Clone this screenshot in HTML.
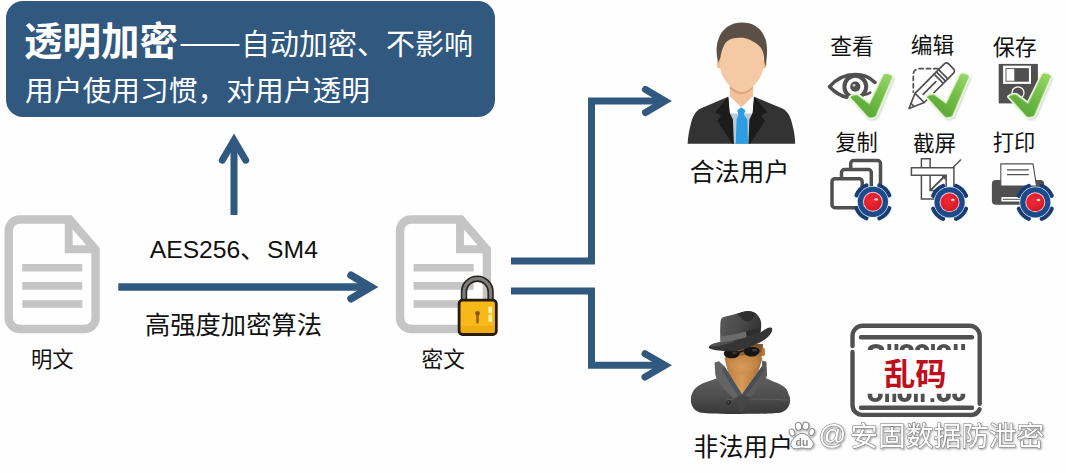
<!DOCTYPE html>
<html lang="zh-CN">
<head>
<meta charset="utf-8">
<title>透明加密——自动加密、不影响用户使用习惯，对用户透明</title>
<style>
html,body{margin:0;padding:0;background:#fefefe;}
body{width:1066px;height:473px;overflow:hidden;font-family:"Liberation Sans",sans-serif;}
svg{display:block;}
</style>
</head>
<body>
<svg width="1066" height="473" viewBox="0 0 1066 473" font-family="Liberation Sans, sans-serif">
<defs>
<linearGradient id="ck" x1="0.9" y1="0" x2="0.25" y2="1">
<stop offset="0" stop-color="#97d466"/><stop offset="0.45" stop-color="#74be49"/><stop offset="1" stop-color="#56a436"/>
</linearGradient>
<filter id="sh" x="-30%" y="-30%" width="170%" height="170%">
<feGaussianBlur in="SourceAlpha" stdDeviation="1.1"/><feOffset dx="1.6" dy="1.4"/>
<feComponentTransfer><feFuncA type="linear" slope="0.42"/></feComponentTransfer>
<feMerge><feMergeNode/><feMergeNode in="SourceGraphic"/></feMerge>
</filter>
<filter id="bl" x="-30%" y="-30%" width="160%" height="160%"><feGaussianBlur stdDeviation="1"/></filter>
<radialGradient id="red" cx="0.42" cy="0.4" r="0.65">
<stop offset="0" stop-color="#f02a36"/><stop offset="0.7" stop-color="#de1f2b"/><stop offset="1" stop-color="#c21825"/>
</radialGradient>
<linearGradient id="hat" x1="0" y1="0.3" x2="1" y2="0.6"><stop offset="0" stop-color="#585858"/><stop offset="0.55" stop-color="#484848"/><stop offset="1" stop-color="#2f2f2f"/></linearGradient>
<linearGradient id="coat" x1="0" y1="0" x2="0" y2="1"><stop offset="0" stop-color="#5e5e5e"/><stop offset="0.5" stop-color="#4e4e4e"/><stop offset="1" stop-color="#383838"/></linearGradient>
<linearGradient id="skin2" x1="0" y1="0" x2="1" y2="0"><stop offset="0" stop-color="#b87a3c"/><stop offset="0.45" stop-color="#d79a58"/><stop offset="1" stop-color="#a96c33"/></linearGradient>
<radialGradient id="face2" cx="0.45" cy="0.75" r="0.7"><stop offset="0" stop-color="#d59c5c"/><stop offset="0.6" stop-color="#c28345"/><stop offset="1" stop-color="#9c6430"/></radialGradient>
<filter id="wm" x="-5%" y="-20%" width="110%" height="150%">
<feGaussianBlur in="SourceAlpha" stdDeviation="0.9"/><feOffset dx="0.6" dy="0.8"/>
<feComponentTransfer><feFuncA type="linear" slope="0.38"/></feComponentTransfer>
<feMerge><feMergeNode/><feMergeNode in="SourceGraphic"/></feMerge>
</filter>
</defs>
<rect x="6" y="1" width="489" height="116" rx="17" ry="17" fill="#31587f"/>
<text x="24" y="55" font-family="'Liberation Sans','Noto Sans CJK SC',sans-serif" font-size="38.5" font-weight="bold" fill="#fff" textLength="154" lengthAdjust="spacingAndGlyphs">透明加密</text>
<rect x="180.5" y="44" width="59" height="2" fill="#fff"/>
<text x="241" y="55" font-family="'Liberation Sans','Noto Sans CJK SC',sans-serif" font-size="29" fill="#fff" textLength="232" lengthAdjust="spacingAndGlyphs">自动加密、不影响</text>
<text x="25" y="100.5" font-family="'Liberation Sans','Noto Sans CJK SC',sans-serif" font-size="28.7" fill="#fff" textLength="345" lengthAdjust="spacingAndGlyphs">用户使用习惯，对用户透明</text>
<path d="M234 215V140" fill="none" stroke="#31587f" stroke-width="7" />
<path d="M222.3 160.2L234 140.3L245.7 160.2" fill="none" stroke="#31587f" stroke-width="7" stroke-linecap="round" stroke-linejoin="miter" stroke-miterlimit="10"/>
<path d="M118.3 287H371" fill="none" stroke="#31587f" stroke-width="7.5" />
<path d="M351 275.3L371 287L351 298.7" fill="none" stroke="#31587f" stroke-width="7.5" stroke-linecap="round" stroke-linejoin="miter" stroke-miterlimit="10"/>
<path d="M511 261H591.5V101H665" fill="none" stroke="#31587f" stroke-width="7" stroke-linejoin="miter"/>
<path d="M645.5 89.5L665 101L645.5 112.5" fill="none" stroke="#31587f" stroke-width="7" stroke-linecap="round" stroke-linejoin="miter" stroke-miterlimit="10"/>
<path d="M511 291H591.5V365.3H665" fill="none" stroke="#31587f" stroke-width="7" stroke-linejoin="miter"/>
<path d="M645 353.7L665 365.3L645 377" fill="none" stroke="#31587f" stroke-width="7" stroke-linecap="round" stroke-linejoin="miter" stroke-miterlimit="10"/>
<g transform="translate(0 0)" fill="none" stroke="#c5c5c5"><path d="M69.6 219.5H19.75A11 11 0 0 0 8.75 230.5V318.0A11 11 0 0 0 19.75 329.0H84.6A11 11 0 0 0 95.6 318.0V249.6Z" stroke-width="8.4" stroke-linejoin="miter"/><path d="M68.7 219.5V249.3H95.6" stroke-width="7.9" stroke-linejoin="miter"/><path d="M22.3 267.7H82.3" stroke-width="7.6"/><path d="M22.3 285.9H82.3" stroke-width="7.6"/><path d="M22.3 304.0H82.3" stroke-width="7.6"/></g>
<g transform="translate(391.3 0)" fill="none" stroke="#c5c5c5"><path d="M69.6 219.5H19.75A11 11 0 0 0 8.75 230.5V318.0A11 11 0 0 0 19.75 329.0H84.6A11 11 0 0 0 95.6 318.0V249.6Z" stroke-width="8.4" stroke-linejoin="miter"/><path d="M68.7 219.5V249.3H95.6" stroke-width="7.9" stroke-linejoin="miter"/><path d="M22.3 267.7H82.3" stroke-width="7.6"/><path d="M22.3 285.9H82.3" stroke-width="7.6"/><path d="M22.3 304.0H82.3" stroke-width="7.6"/></g>
<g>
<path d="M464 301V292A13.3 13.3 0 0 1 490.6 292V301" fill="none" stroke="#2a2420" stroke-width="6.4"/>
<path d="M464 301V292A13.3 13.3 0 0 1 490.6 292V301" fill="none" stroke="#7d7d7d" stroke-width="3.2"/>
<rect x="459.1" y="300.2" width="37.2" height="34.3" rx="3.5" fill="#f6b919" stroke="#2a1b10" stroke-width="2.8"/>
<rect x="461" y="326" width="33.6" height="7" rx="2" fill="#eaa70f" opacity="0.6"/>
<circle cx="477.5" cy="313.3" r="2.4" fill="#8a5a12"/>
<rect x="476.3" y="313" width="2.4" height="10.6" rx="1" fill="#8a5a12"/>
<rect x="488.4" y="306.5" width="3.6" height="7" rx="0.8" fill="#fff2a3"/>
<rect x="488.4" y="314.8" width="3.6" height="7" rx="0.8" fill="#fff2a3"/>
</g>
<text x="31" y="367" font-family="'Liberation Sans','Noto Sans CJK SC',sans-serif" font-size="21.3" fill="#111">明文</text>
<text x="421.5" y="367" font-family="'Liberation Sans','Noto Sans CJK SC',sans-serif" font-size="21.7" fill="#111">密文</text>
<text x="149.7" y="257.8" font-family="Liberation Sans, sans-serif" font-size="24.7" fill="#111" textLength="90.64" lengthAdjust="spacingAndGlyphs">AES256</text>
<text x="240.3" y="258.3" font-family="'Liberation Sans','Noto Sans CJK SC',sans-serif" font-size="24.7" fill="#111">、</text>
<text x="267.1" y="257.8" font-family="Liberation Sans, sans-serif" font-size="24.7" fill="#111" textLength="50.79" lengthAdjust="spacingAndGlyphs">SM4</text>
<text x="145" y="334" font-family="'Liberation Sans','Noto Sans CJK SC',sans-serif" font-size="25.2" fill="#111" textLength="177" lengthAdjust="spacingAndGlyphs">高强度加密算法</text>
<text x="689.8" y="180.5" font-family="'Liberation Sans','Noto Sans CJK SC',sans-serif" font-size="24.8" fill="#111" textLength="99.5" lengthAdjust="spacingAndGlyphs">合法用户</text>
<text x="693.6" y="456" font-family="'Liberation Sans','Noto Sans CJK SC',sans-serif" font-size="24.8" fill="#111" textLength="99.5" lengthAdjust="spacingAndGlyphs">非法用户</text>
<text x="830.3" y="53.8" font-family="'Liberation Sans','Noto Sans CJK SC',sans-serif" font-size="21.7" fill="#111">查看</text>
<text x="910.8" y="52.6" font-family="'Liberation Sans','Noto Sans CJK SC',sans-serif" font-size="21.7" fill="#111">编辑</text>
<text x="992.8" y="54.7" font-family="'Liberation Sans','Noto Sans CJK SC',sans-serif" font-size="22" fill="#111">保存</text>
<text x="835.4" y="150.2" font-family="'Liberation Sans','Noto Sans CJK SC',sans-serif" font-size="21.2" fill="#111">复制</text>
<text x="913" y="151" font-family="'Liberation Sans','Noto Sans CJK SC',sans-serif" font-size="21.6" fill="#111">截屏</text>
<text x="992.8" y="149.8" font-family="'Liberation Sans','Noto Sans CJK SC',sans-serif" font-size="21.3" fill="#111">打印</text>
<g>
<!-- suit -->
<path d="M687.6 143.8C688 137 689 131 690.3 126.2C691.5 121 692.5 117.5 694.4 114.6C696 111.5 698 109.8 700.6 108.4L728.1 96.7L741.2 108L754.2 96.7L782.4 108.4C785 109.8 787 111.5 788.6 114.6C790.5 117.5 791.5 121 792.7 126.2C794 131 795 137 795.2 143.8Z" fill="#333"/>
<!-- shirt -->
<path d="M728.3 96.8H754.1L749.6 143.8H732.7Z" fill="#b9cbd8"/>
<path d="M728.3 96.8H754.1L752.5 113.5H730Z" fill="#fff"/>
<!-- neck -->
<path d="M729.8 84H753V96L741.3 107.6L729.8 96Z" fill="#f1c29c"/>
<path d="M729.8 84H753V88.5C749 92.5 745 94 741.4 94C737.8 94 733.8 92.5 729.8 88.5Z" fill="#dca67d"/>
<!-- tie -->
<path d="M741.3 107.3L745.4 110.4L743.9 114.5L747.4 119.4L748 143.8H735.7L736.6 119.4L738.5 114.5L737.1 110.4Z" fill="#2b9de0"/>
<!-- lapels -->
<path d="M728.1 96.7L715.1 112.2L721 115.5L717.4 121L732.3 143.8H733.9L732.9 119.4L729.5 112.5L728.4 97.4Z" fill="#1c1c1c"/>
<path d="M754.2 96.7L767.2 112.2L761.3 115.5L764.9 121L750 143.8H748.4L749.4 119.4L752.8 112.5L753.9 97.4Z" fill="#1c1c1c"/>
<!-- ears -->
<ellipse cx="719.4" cy="63.8" rx="2.6" ry="4.6" fill="#eebd95"/>
<ellipse cx="764.2" cy="63.8" rx="2.6" ry="4.6" fill="#eebd95"/>
<!-- face -->
<path d="M720.2 50C720.2 40 728 34 742 34C756 34 763.3 40 763.3 50V64C763.3 68 763 69.5 762.5 71.5C760.5 80 750 92.1 741.8 92.1C733.5 92.1 723 80 721 71.5C720.5 69.5 720.2 68 720.2 64Z" fill="#f5c9a4"/>
<!-- hair -->
<path d="M718.2 62.5C715.8 53 716.3 45 718.3 39.5C722 28.5 731 22.6 742 22.6C753.5 22.6 762 28.5 765.6 39.5C767.6 46 767.6 56 765.3 66.4C764.6 63 764.2 61 764 58.5C763.5 52 762.5 48 756.4 43.6C751 40 747 38.6 743.1 37.8C738.5 37.6 735 38 731.7 38.8C727.5 40 725.5 42.5 724 45.5C722 49.5 721 53.5 720.2 58.8C719.4 60 718.8 61.2 718.2 62.5Z" fill="#5c5046"/>
</g>
<g fill="none" stroke="#505050" stroke-linecap="round">
<path d="M829.6 86.7C838 77 847.5 74.6 855.3 74.6C863 74.6 870 77.6 875 82.4" stroke-width="3.5"/>
<path d="M829.6 86.7C835 92.5 840.5 95.8 846.8 97.3" stroke-width="3.5"/>
<circle cx="855.3" cy="86.7" r="10.9" stroke-width="4"/>
<path d="M864.5 94.6C866.8 94.6 868.8 93.8 870.3 92.6" stroke-width="2.6"/>
<circle cx="855.3" cy="86.7" r="5.1" fill="#505050" stroke="none"/>
<circle cx="854" cy="85.3" r="1.4" fill="#cfcfcf" stroke="none"/>
</g>
<g transform="translate(0 0)"><path d="M850.6 97.2C852.5 95.6 855.5 94.9 857.6 95.4L869.6 104.4L884.2 74.8C886.5 73.9 890 74.8 892 76.8L875.6 116C873.5 117.6 870.3 117.8 868.4 117Z" fill="#9a9a9a" stroke="#9a9a9a" stroke-width="2.6" stroke-linejoin="round" opacity="0.45" transform="translate(1.3 1.5)" filter="url(#bl)"/><path d="M850.6 97.2C852.5 95.6 855.5 94.9 857.6 95.4L869.6 104.4L884.2 74.8C886.5 73.9 890 74.8 892 76.8L875.6 116C873.5 117.6 870.3 117.8 868.4 117Z" fill="#eaf6de" stroke="#eaf6de" stroke-width="4" stroke-linejoin="round"/><path d="M850.6 97.2C852.5 95.6 855.5 94.9 857.6 95.4L869.6 104.4L884.2 74.8C886.5 73.9 890 74.8 892 76.8L875.6 116C873.5 117.6 870.3 117.8 868.4 117Z" fill="url(#ck)" stroke="#8fcf5e" stroke-width="0.8" stroke-linejoin="round"/></g>
<g fill="none" stroke="#505050" stroke-width="1.7" stroke-linejoin="round" stroke-linecap="round">
<path d="M938 68.7H919A5.7 5.7 0 0 0 913.3 74.4V92" stroke-dasharray="4.2 3.2"/>
<g transform="translate(909 108.5) rotate(-45)">
<path d="M0 0L15 -6.5H56.5A3 3 0 0 1 59.5 -3.5V3.5A3 3 0 0 1 56.5 6.5H15Z" fill="#fff"/>
<path d="M15 -6.5V6.5M42 -6.5V6.5M45.2 -6.5V6.5M48.4 -6.5V6.5M5 -2.2V2.2M20 0H38"/>
</g>
</g>
<g transform="translate(76.6 -0.3)"><path d="M850.6 97.2C852.5 95.6 855.5 94.9 857.6 95.4L869.6 104.4L884.2 74.8C886.5 73.9 890 74.8 892 76.8L875.6 116C873.5 117.6 870.3 117.8 868.4 117Z" fill="#9a9a9a" stroke="#9a9a9a" stroke-width="2.6" stroke-linejoin="round" opacity="0.45" transform="translate(1.3 1.5)" filter="url(#bl)"/><path d="M850.6 97.2C852.5 95.6 855.5 94.9 857.6 95.4L869.6 104.4L884.2 74.8C886.5 73.9 890 74.8 892 76.8L875.6 116C873.5 117.6 870.3 117.8 868.4 117Z" fill="#eaf6de" stroke="#eaf6de" stroke-width="4" stroke-linejoin="round"/><path d="M850.6 97.2C852.5 95.6 855.5 94.9 857.6 95.4L869.6 104.4L884.2 74.8C886.5 73.9 890 74.8 892 76.8L875.6 116C873.5 117.6 870.3 117.8 868.4 117Z" fill="url(#ck)" stroke="#8fcf5e" stroke-width="0.8" stroke-linejoin="round"/></g>
<g>
<rect x="998.7" y="63.9" width="39.2" height="39.5" fill="#505050"/>
<rect x="1003.1" y="65.7" width="27.9" height="18.2" fill="#fff"/>
<rect x="1006" y="68.6" width="22.4" height="12.6" fill="#fff" stroke="#505050" stroke-width="0.9"/>
<rect x="1014.3" y="68.6" width="14.1" height="12.6" fill="#505050"/>
<circle cx="1018" cy="92.8" r="6" fill="#505050" stroke="#fff" stroke-width="1.3"/>
</g>
<g transform="translate(158.5 -0.5)"><path d="M850.6 97.2C852.5 95.6 855.5 94.9 857.6 95.4L869.6 104.4L884.2 74.8C886.5 73.9 890 74.8 892 76.8L875.6 116C873.5 117.6 870.3 117.8 868.4 117Z" fill="#9a9a9a" stroke="#9a9a9a" stroke-width="2.6" stroke-linejoin="round" opacity="0.45" transform="translate(1.3 1.5)" filter="url(#bl)"/><path d="M850.6 97.2C852.5 95.6 855.5 94.9 857.6 95.4L869.6 104.4L884.2 74.8C886.5 73.9 890 74.8 892 76.8L875.6 116C873.5 117.6 870.3 117.8 868.4 117Z" fill="#eaf6de" stroke="#eaf6de" stroke-width="4" stroke-linejoin="round"/><path d="M850.6 97.2C852.5 95.6 855.5 94.9 857.6 95.4L869.6 104.4L884.2 74.8C886.5 73.9 890 74.8 892 76.8L875.6 116C873.5 117.6 870.3 117.8 868.4 117Z" fill="url(#ck)" stroke="#8fcf5e" stroke-width="0.8" stroke-linejoin="round"/></g>
<g fill="#fefefe" stroke="#505050" stroke-width="3.5">
<rect x="850.7" y="160.5" width="29.8" height="29.8" rx="3"/>
<rect x="841.5" y="169.5" width="29.8" height="29.8" rx="3"/>
<rect x="832" y="178.7" width="30.2" height="29" rx="3"/>
</g>
<g transform="translate(872.9 201.8)"><path d="M16.38 6.45A17.6 17.6 0 0 1 6.45 16.38" fill="none" stroke="#193c72" stroke-width="4.3" stroke-linecap="round"/><path d="M-6.45 16.38A17.6 17.6 0 0 1 -16.38 6.45" fill="none" stroke="#193c72" stroke-width="4.3" stroke-linecap="round"/><path d="M-16.38 -6.45A17.6 17.6 0 0 1 -6.45 -16.38" fill="none" stroke="#193c72" stroke-width="4.3" stroke-linecap="round"/><path d="M6.45 -16.38A17.6 17.6 0 0 1 16.38 -6.45" fill="none" stroke="#193c72" stroke-width="4.3" stroke-linecap="round"/><circle r="15.8" fill="#cfe3fb"/><circle r="15.1" fill="#1c4a8a"/><circle r="10" fill="#f6c6d6"/><circle r="9" fill="url(#red)"/><ellipse cx="3.2" cy="-2.3" rx="1.9" ry="1.3" fill="#ffd9cf" opacity="0.95"/></g>
<g fill="#fefefe" stroke="#505050" stroke-width="1.5" stroke-linejoin="miter">
<path d="M961 159.5L930.5 190" fill="none"/>
<path d="M921.4 158.7H930.1V190.5H946V199.1H921.4Z"/>
<path d="M911.4 167.7H953.9V199H946.2V175.3H911.4Z"/>
<path d="M945.5 175.8L930.6 190.2" fill="none"/>
<path d="M945.8 175.6V180.5L941 175.6Z" fill="#505050" stroke="none"/>
</g>
<g transform="translate(949.6 202.3)"><path d="M16.38 6.45A17.6 17.6 0 0 1 6.45 16.38" fill="none" stroke="#193c72" stroke-width="4.3" stroke-linecap="round"/><path d="M-6.45 16.38A17.6 17.6 0 0 1 -16.38 6.45" fill="none" stroke="#193c72" stroke-width="4.3" stroke-linecap="round"/><path d="M-16.38 -6.45A17.6 17.6 0 0 1 -6.45 -16.38" fill="none" stroke="#193c72" stroke-width="4.3" stroke-linecap="round"/><path d="M6.45 -16.38A17.6 17.6 0 0 1 16.38 -6.45" fill="none" stroke="#193c72" stroke-width="4.3" stroke-linecap="round"/><circle r="15.8" fill="#cfe3fb"/><circle r="15.1" fill="#1c4a8a"/><circle r="10" fill="#f6c6d6"/><circle r="9" fill="url(#red)"/><ellipse cx="3.2" cy="-2.3" rx="1.9" ry="1.3" fill="#ffd9cf" opacity="0.95"/></g>
<g>
<rect x="991.9" y="180.1" width="52.3" height="24.6" rx="4" fill="#505050"/>
<path d="M1000.8 186V163.9H1033L1036.5 186Z" fill="#fff" stroke="#505050" stroke-width="1.1" stroke-linejoin="round"/>
<path d="M1007 169.8H1028.8M1007 174.6H1028.8" stroke="#505050" stroke-width="1.3" fill="none"/>
<rect x="1001.4" y="197" width="30" height="4.5" fill="#fff"/>
<path d="M1003 199.3H1030" stroke="#505050" stroke-width="1"/>
</g>
<g transform="translate(1035.3 202.3)"><path d="M16.38 6.45A17.6 17.6 0 0 1 6.45 16.38" fill="none" stroke="#193c72" stroke-width="4.3" stroke-linecap="round"/><path d="M-6.45 16.38A17.6 17.6 0 0 1 -16.38 6.45" fill="none" stroke="#193c72" stroke-width="4.3" stroke-linecap="round"/><path d="M-16.38 -6.45A17.6 17.6 0 0 1 -6.45 -16.38" fill="none" stroke="#193c72" stroke-width="4.3" stroke-linecap="round"/><path d="M6.45 -16.38A17.6 17.6 0 0 1 16.38 -6.45" fill="none" stroke="#193c72" stroke-width="4.3" stroke-linecap="round"/><circle r="15.8" fill="#cfe3fb"/><circle r="15.1" fill="#1c4a8a"/><circle r="10" fill="#f6c6d6"/><circle r="9" fill="url(#red)"/><ellipse cx="3.2" cy="-2.3" rx="1.9" ry="1.3" fill="#ffd9cf" opacity="0.95"/></g>
<g>
<!-- coat body -->
<path d="M690.9 400.3C690.9 397 691 396 691.7 394.4C693 391 694.5 388.8 696.8 387C699.5 384.8 703 383.2 707.2 381.8L717.6 378.1H765.7L773.8 381.8C778 383.2 781.5 384.8 784.2 387C786.5 388.8 788 391 788.6 394.4C789.6 396 790.1 397 790.1 400.3C790.1 406 787 410.5 781.2 412.4C770 414.4 711 414.4 699.8 412.4C694 410.5 690.9 406 690.9 400.3Z" fill="url(#coat)"/>
<path d="M727 399.6C745 398.6 770 398.8 789 400.2" stroke="#6a6a6a" stroke-width="0.9" fill="none" opacity="0.7"/>
<!-- neck -->
<path d="M724.5 358H762.5L757 376L742 395L729 376Z" fill="url(#skin2)"/>
<!-- face -->
<path d="M724.3 344H762.8C763 350 762.5 354 761.5 357.5C759.5 365 752 374.6 743.2 374.6C735 374.6 728 366 726 359.5C724.8 355.5 724.3 350 724.3 344Z" fill="url(#face2)"/>
<path d="M724.3 344H762.8V351.5C750 356 737 357 724.6 353.5Z" fill="#6e4420" opacity="0.55"/>
<ellipse cx="763.3" cy="352" rx="1.8" ry="4.2" fill="#b87a3c"/>
<!-- collar -->
<path d="M714.6 362.6L719 361.2L724.4 366.2L742 394.6L733.8 398.8C728 393 723 388 720.5 384C717.5 380 715.5 377 715.3 374.4Z" fill="#646464"/>
<path d="M724.4 366.2L742 394.6L738.5 396.4L722 371Z" fill="#4c545c"/>
<path d="M766.4 361.8L762.2 360.6L762 366.3L742 394.6L750.1 397.4C755 393 757.5 390 759 387C763 382 766.5 378 767.1 375.2Z" fill="#5a5a5a"/>
<path d="M762 366.3L742 394.6L745.3 396L764 371Z" fill="#464e56"/>
<path d="M742 394.6L733.8 398.8L741.5 413.8L750.1 397.4Z" fill="#454545"/>
<circle cx="728.7" cy="402.6" r="2.3" fill="#2a2a2a"/>
<circle cx="728.3" cy="402.1" r="0.9" fill="#5e5e5e"/>
<!-- glasses -->
<path d="M723.8 353.3C724 350.8 727 350 731.8 350C736.5 350 739.6 350.8 739.6 353.3C739.6 356.3 736 358.3 731.7 358.3C727.2 358.3 723.8 356.3 723.8 353.3Z" fill="#161616"/>
<path d="M743.6 351C743.6 348.3 747 347 751.6 347C756.2 347 759.5 348.3 759.5 351C759.5 354 756 356.6 751.6 356.6C747 356.6 743.6 354 743.6 351Z" fill="#161616"/>
<path d="M739 352.2L744 350.6" stroke="#161616" stroke-width="1.5"/>
<ellipse cx="754.5" cy="350.2" rx="2.6" ry="1.4" fill="#4a4a4a" opacity="0.8"/>
<ellipse cx="734.5" cy="352.7" rx="2.6" ry="1.3" fill="#444" opacity="0.7"/>
<!-- hat brim -->
<path d="M708.7 347C709.5 344.8 714 343.2 720.6 342L760.3 332.4L766.6 328.6C769.5 327.2 772 327.3 772.2 328.8C772.6 331.5 770.5 334.3 768.2 336.7C764.5 340 760.5 342.5 755.5 344.6C750 347.3 745 349 739.6 350.2C734 351.4 729 351.5 723.8 351C717 350.4 708 349.5 708.7 347Z" fill="#353535"/>
<path d="M708.9 346.8C710 344.8 714 343.2 720.6 342L733 339.2L734 341.5C727 344 718 346.5 708.9 346.8Z" fill="#5a5a5a" opacity="0.8"/>
<!-- crown -->
<path d="M720.6 341.5C720 334 720 327 720.6 320.9C721 318.5 722 317.4 723.8 316.9L739.6 312.9C742 312.2 745 311.2 747.6 311C751.5 310.8 755 312.2 757.1 314.5C759.5 317 760.5 319.5 761.1 322.4C761.5 326 761 329 760.3 332.8C748 337.5 734 341 720.6 342.4Z" fill="url(#hat)"/>
<path d="M736.5 314C740 315.5 742 320.5 746 321.5C750 322.3 753.5 318.5 755.5 313.6C752.5 311.6 749.5 310.9 747.6 311C744 311.3 740 312.6 736.5 314Z" fill="#2c2c2c" opacity="0.85"/>
<!-- band -->
<path d="M720.5 336.6C734 335 748 331.5 760.9 326.8L760.3 332.8C748 337.5 734 341 720.6 342.4Z" fill="#6c6c6c"/>
<path d="M746 330.8C751 329.6 756 328.4 760.9 326.8L760.3 332.8C756 334.5 751 336 746.5 337.2Z" fill="#2e2e2e"/>
</g>
<g fill="none" stroke="#505050">
<rect x="850.3" y="323.6" width="131.6" height="93.5" rx="12" fill="#fefefe" stroke="none"/>
<path d="M852.5 346V335.8A10 10 0 0 1 862.5 325.8H969.7A10 10 0 0 1 979.7 335.8V403.8M979.6 409.2A10 10 0 0 1 969.7 414.9H862.5A10 10 0 0 1 852.5 404.9V352" stroke-width="4.4" stroke-linecap="round"/>
<path d="M861 337.2H972M861 407.8H972" stroke-width="4.4" stroke-linecap="round"/>
<path d="M867.7 350.0V349.6A8.2 5.6 0 0 1 884.2 349.6V350.0ZM872.3 350.0V350.2A3.7 2.4 0 0 1 879.6 350.2V350.0Z M887.4 344.0H891.2V350.0H887.4Z M894.5 344.0H898.3V350.0H894.5Z M899.7 350.0V349.6A6.9 5.6 0 0 1 913.6 349.6V350.0ZM904.3 350.0V350.2A2.3 2.4 0 0 1 909.0 350.2V350.0Z M915.1 350.0V349.6A7.0 5.6 0 0 1 929.1 349.6V350.0ZM919.7 350.0V350.2A2.4 2.4 0 0 1 924.5 350.2V350.0Z M931.1 344.0H934.9V350.0H931.1Z M936.8 350.0V349.6A7.0 5.6 0 0 1 950.8 349.6V350.0ZM941.4 350.0V350.2A2.4 2.4 0 0 1 946.2 350.2V350.0Z M953.8 344.0H957.6V350.0H953.8Z M961.2 344.0H965.0V350.0H961.2Z" fill="#505050" fill-rule="evenodd" stroke="none"/>
<path d="M867.7 393.8V396.3A7.4 5.6 0 0 0 882.6 396.3V393.8ZM872.3 393.8V395.7A2.8 2.4 0 0 0 878.0 395.7V393.8Z M885.2 393.8H889.0V401.9H885.2Z M892.4 393.8H896.2V401.9H892.4Z M897.6 393.8V396.3A6.9 5.6 0 0 0 911.5 396.3V393.8ZM902.2 393.8V395.7A2.3 2.4 0 0 0 906.9 395.7V393.8Z M914.0 393.8H917.8V401.9H914.0Z M920.8 393.8H924.6V401.9H920.8Z M930.5 398.2H934.3V401.9H930.5Z M936.8 393.8V396.3A7.0 5.6 0 0 0 950.8 396.3V393.8ZM941.4 393.8V395.7A2.4 2.4 0 0 0 946.2 395.7V393.8Z M952.3 393.8V396.3A6.5 5.6 0 0 0 965.2 396.3V393.8ZM956.9 393.8V395.7A1.9 2.4 0 0 0 960.6 395.7V393.8Z" fill="#505050" fill-rule="evenodd" stroke="none"/>
</g>
<text x="884" y="384.5" font-family="'Liberation Sans','Noto Sans CJK SC',sans-serif" font-size="31.2" font-weight="bold" fill="#c00f1c" textLength="62.4" lengthAdjust="spacingAndGlyphs">乱码</text>
<g filter="url(#wm)">
<g fill="#fff" stroke="#8a8a8a" stroke-width="1" stroke-linejoin="round">
<ellipse cx="792" cy="432.5" rx="2.7" ry="3.6" transform="rotate(-20 792 432.5)"/>
<ellipse cx="798.5" cy="426.4" rx="3.1" ry="3.9" transform="rotate(-8 798.5 426.4)"/>
<ellipse cx="805.7" cy="426" rx="3.1" ry="3.9" transform="rotate(8 805.7 426)"/>
<ellipse cx="811.7" cy="432.1" rx="2.7" ry="3.6" transform="rotate(20 811.7 432.1)"/>
<path d="M802 433.3C806 433.3 808.5 436.5 810.5 439C813 441.5 813.8 444 813 446C812 448.5 809 449 806.5 448.7C804.5 448.4 803.5 448 802 448C800.5 448 799.5 448.4 797.5 448.7C795 449 792 448.5 791 446C790.2 444 791 441.5 793.5 439C795.5 436.5 798 433.3 802 433.3Z"/>
</g>
<text x="801.9" y="445.6" text-anchor="middle" font-family="Liberation Sans, sans-serif" font-weight="bold" font-size="10.4" fill="#8a8a8a">du</text>
<text x="818.4" y="444.3" font-family="Liberation Sans, sans-serif" font-size="27.5" fill="#fff" stroke="#7a7a7a" stroke-width="1" paint-order="stroke">@</text>
<text x="850.3" y="446" font-family="'Liberation Sans','Noto Sans CJK SC',sans-serif" font-size="27.7" fill="#fff" stroke="#7a7a7a" stroke-width="1.1" stroke-linejoin="round" paint-order="stroke" textLength="194" lengthAdjust="spacingAndGlyphs">安固数据防泄密</text>
</g>
</svg>
</body>
</html>
